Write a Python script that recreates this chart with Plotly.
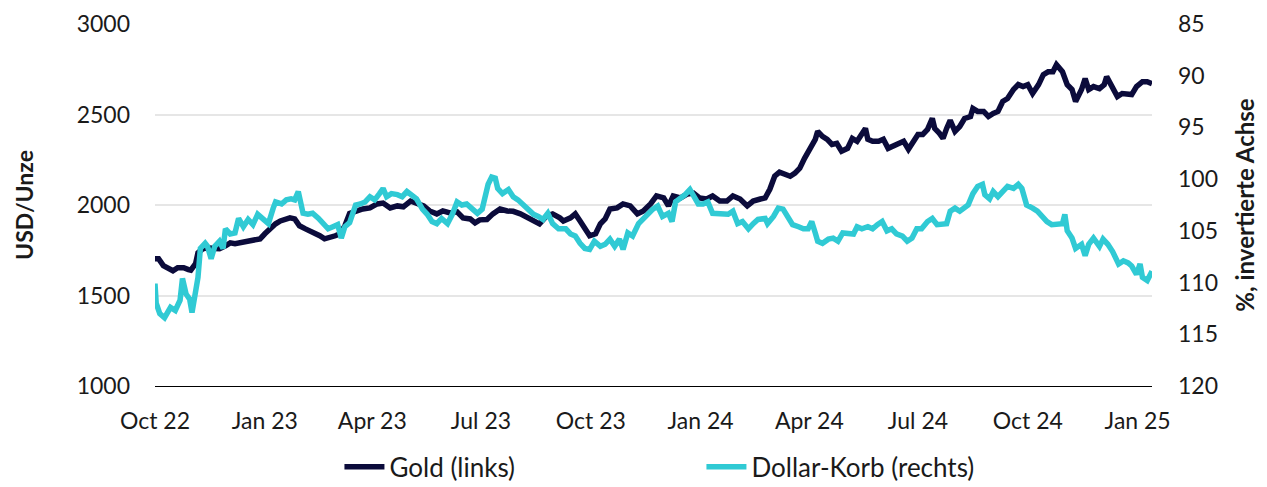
import pandas as pd
import plotly.graph_objects as go

START = "2022-10-01"

# Gold (USD/Unze) – days since START, value
gold_days = [0, 3, 7, 11, 15, 19, 24, 28, 30, 34, 36, 40, 44, 50, 54, 59, 63, 67, 71, 75,
             80, 84, 88, 92, 96, 101, 105, 109, 113, 117, 121, 126, 130, 134, 138, 142, 147, 151, 155, 159,
             163, 168, 174, 180, 186, 191, 197, 203, 208, 214, 219, 225, 230, 236, 241, 247, 253, 258, 264, 268,
             272, 278, 283, 289, 295, 300, 306, 312, 317, 322, 328, 333, 339, 342, 348, 352, 356, 360, 364, 369,
             373, 377, 381, 387, 392, 398, 404, 409, 415, 420, 426, 430, 434, 440, 446, 451, 456, 462, 467, 473,
             479, 484, 490, 496, 501, 507, 511, 515, 519, 523, 528, 532, 536, 540, 544, 549, 553, 555, 559, 563,
             567, 571, 575, 580, 584, 588, 592, 595, 597, 601, 606, 610, 614, 618, 622, 627, 631, 635, 639, 643,
             647, 651, 653, 657, 660, 663, 666, 670, 674, 678, 683, 685, 689, 694, 698, 702, 706, 710, 714, 719,
             723, 727, 731, 735, 740, 744, 748, 752, 755, 760, 764, 768, 771, 776, 779, 782, 786, 791, 795, 797,
             802, 806, 810, 814, 818, 822, 827, 831, 835]
gold_vals = [1703, 1703, 1665, 1654, 1637, 1654, 1654, 1643, 1640, 1676, 1736, 1758, 1764, 1760, 1758, 1775, 1791, 1786, 1791, 1802,
             1802, 1813, 1813, 1841, 1868, 1896, 1912, 1918, 1929, 1923, 1885, 1868, 1857, 1846, 1830, 1813, 1819, 1830, 1841, 1885,
             1953, 1967, 1978, 1984, 2006, 2011, 1984, 1995, 1990, 2022, 2011, 1995, 1967, 1951, 1967, 1956, 1962, 1929, 1923, 1901,
             1918, 1920, 1951, 1978, 1967, 1965, 1951, 1929, 1912, 1896, 1940, 1951, 1929, 1912, 1929, 1951, 1912, 1874, 1830, 1841,
             1896, 1923, 1978, 1984, 2006, 1995, 1951, 1967, 2006, 2050, 2039, 1995, 2050, 2039, 2061, 2066, 2039, 2033, 2050, 2022,
             2022, 2050, 2033, 1995, 2022, 2033, 2039, 2088, 2159, 2181, 2170, 2159, 2176, 2203, 2258, 2313, 2363, 2407, 2379, 2363,
             2335, 2341, 2297, 2313, 2368, 2352, 2396, 2423, 2363, 2352, 2352, 2363, 2313, 2324, 2341, 2352, 2308, 2352, 2390, 2390,
             2418, 2478, 2423, 2396, 2368, 2423, 2468, 2407, 2434, 2478, 2489, 2533, 2517, 2517, 2489, 2506, 2517, 2572, 2588, 2638,
             2665, 2654, 2665, 2616, 2665, 2720, 2736, 2736, 2775, 2736, 2665, 2638, 2572, 2638, 2698, 2638, 2654, 2643, 2665, 2709,
             2654, 2599, 2616, 2616, 2610, 2654, 2681, 2681, 2670]

# Dollar-Korb (index, inverted right axis) – days since START, value
usd_days = [0, 1, 4, 8, 13, 17, 21, 23, 26, 29, 31, 34, 36, 38, 42, 44, 47, 50, 54, 57,
            59, 63, 67, 70, 74, 78, 82, 86, 90, 95, 99, 101, 106, 110, 114, 117, 120, 122, 124, 128,
            132, 137, 141, 145, 149, 153, 156, 159, 163, 168, 172, 176, 180, 184, 188, 191, 194, 198, 203, 207,
            211, 215, 219, 224, 228, 232, 236, 240, 245, 249, 253, 257, 261, 265, 270, 274, 276, 279, 282, 285,
            287, 291, 296, 300, 304, 308, 312, 317, 321, 325, 329, 333, 338, 344, 348, 352, 356, 360, 364, 368,
            373, 377, 381, 385, 389, 392, 396, 400, 405, 409, 413, 417, 421, 425, 430, 433, 436, 440, 444, 448,
            451, 455, 459, 463, 467, 472, 476, 480, 484, 488, 492, 497, 501, 505, 511, 513, 518, 522, 526, 530,
            534, 539, 543, 547, 550, 553, 555, 559, 564, 568, 572, 576, 580, 585, 588, 592, 597, 601, 605, 609,
            613, 617, 621, 626, 630, 634, 638, 642, 647, 651, 655, 659, 663, 666, 670, 674, 677, 681, 685, 689,
            693, 695, 699, 702, 706, 710, 714, 719, 723, 726, 730, 735, 739, 743, 747, 751, 755, 760, 762, 764,
            768, 771, 776, 779, 782, 786, 791, 794, 798, 802, 807, 811, 815, 818, 822, 825, 827, 831, 835]
usd_vals = [110.1, 112.0, 113.0, 113.4, 112.4, 112.7, 111.7, 109.6, 111.1, 111.6, 112.9, 110.5, 109.5, 106.7, 106.2, 106.5, 107.7, 106.5, 106.0, 106.7,
            104.8, 105.3, 105.2, 103.8, 104.6, 103.9, 104.4, 103.4, 103.8, 104.3, 102.8, 102.2, 102.4, 102.0, 101.9, 102.0, 101.2, 102.2, 103.3, 103.4,
            103.3, 103.8, 104.4, 104.8, 104.6, 104.4, 105.7, 104.6, 104.2, 102.5, 102.4, 102.2, 101.7, 102.0, 101.4, 100.9, 101.7, 101.4, 101.5, 101.7,
            101.2, 101.5, 101.9, 102.9, 103.4, 104.1, 104.3, 103.8, 104.3, 103.4, 102.2, 102.5, 102.4, 102.8, 103.3, 102.9, 101.9, 100.5, 99.8, 99.9,
            100.9, 101.4, 101.0, 101.7, 102.0, 102.4, 102.9, 103.4, 103.6, 103.9, 103.3, 104.3, 104.8, 104.8, 105.3, 105.5, 106.2, 106.7, 106.8, 106.0,
            106.5, 106.3, 105.8, 106.5, 105.8, 106.8, 105.2, 105.5, 104.3, 103.8, 103.4, 102.9, 102.6, 103.6, 103.3, 104.1, 102.2, 101.9, 101.5, 101.0,
            101.5, 102.4, 102.4, 102.2, 103.3, 103.3, 103.4, 103.4, 103.1, 104.3, 104.1, 104.8, 104.3, 103.9, 103.8, 104.3, 103.6, 102.8, 102.9, 103.6,
            104.4, 104.6, 104.8, 104.8, 104.1, 105.2, 106.0, 106.2, 105.8, 105.7, 106.0, 105.2, 105.3, 105.3, 104.6, 104.8, 104.6, 104.8, 104.4, 104.1,
            105.0, 104.8, 105.3, 105.5, 106.0, 105.7, 104.8, 104.8, 104.1, 103.8, 104.4, 104.3, 104.3, 103.1, 102.8, 103.1, 102.9, 102.5, 101.4, 100.7,
            100.5, 101.5, 101.9, 101.2, 101.7, 101.2, 100.7, 100.9, 100.5, 100.9, 102.5, 102.8, 103.1, 103.6, 104.1, 104.4, 104.3, 104.3, 103.4, 105.0,
            105.7, 106.7, 106.3, 107.4, 106.3, 105.7, 106.5, 105.8, 106.3, 107.0, 108.2, 107.9, 108.1, 108.4, 109.2, 108.2, 109.5, 109.8, 108.9]

left_ticks = [1000, 1500, 2000, 2500, 3000]
right_ticks = [85, 90, 95, 100, 105, 110, 115, 120]
x_ticks = ["2022-10-01", "2023-01-01", "2023-04-01", "2023-07-01", "2023-10-01",
           "2024-01-01", "2024-04-01", "2024-07-01", "2024-10-01", "2025-01-01"]
x_labels = ["Oct 22", "Jan 23", "Apr 23", "Jul 23", "Oct 23",
            "Jan 24", "Apr 24", "Jul 24", "Oct 24", "Jan 25"]

start = pd.Timestamp(START)
gold_dates = start + pd.to_timedelta(gold_days, unit="D")
usd_dates = start + pd.to_timedelta(usd_days, unit="D")

GOLD_C = "#0b0b3b"
USD_C = "#30cad4"
FONT = "Source Sans Pro, Lato, sans-serif"
FS = 23

fig = go.Figure()
fig.add_trace(go.Scatter(x=gold_dates, y=gold_vals, name="Gold (links)", mode="lines",
                         line=dict(color=GOLD_C, width=5.5), yaxis="y"))
fig.add_trace(go.Scatter(x=usd_dates, y=usd_vals, name="Dollar-Korb (rechts)", mode="lines",
                         line=dict(color=USD_C, width=5.5), yaxis="y2"))

fig.update_layout(
    width=1259, height=479,
    margin=dict(l=147, r=115, t=16, b=101),
    paper_bgcolor="white", plot_bgcolor="white",
    font=dict(family=FONT, size=FS, color="#1a1a1a"),
    xaxis=dict(
        type="date", automargin=False,
        range=[start, start + pd.Timedelta(days=835)],
        tickvals=x_ticks, ticktext=x_labels,
        showgrid=False, zeroline=False,
        showline=True, linecolor="#000000", linewidth=1.3,
        ticks="", ticklabelstandoff=14, ticklabeloverflow="allow",
        tickfont=dict(size=FS),
    ),
    yaxis=dict(
        range=[1000, 3000], tickvals=left_ticks, automargin=False,
        showgrid=True, gridcolor="#e6e6e6", gridwidth=2,
        zeroline=False, ticks="", ticklabelstandoff=24, ticklabeloverflow="allow",
        title=dict(text="<b>USD/Unze</b>", font=dict(size=FS), standoff=36),
        tickfont=dict(size=FS),
    ),
    yaxis2=dict(
        overlaying="y", side="right", automargin=False,
        range=[120, 85], tickvals=right_ticks,
        showgrid=False, zeroline=False, ticks="", ticklabelstandoff=25, ticklabeloverflow="allow",
        title=dict(text="<b>%, invertierte Achse</b>", font=dict(size=24), standoff=20),
        tickfont=dict(size=FS),
    ),
    legend=dict(
        orientation="h", x=0.185, xanchor="left",
        yref="container", y=0.042, yanchor="middle",
        entrywidth=307, entrywidthmode="pixels",
        font=dict(size=26), itemwidth=40, bgcolor="rgba(0,0,0,0)",
    ),
    showlegend=True,
)

fig.write_html("out.html")
